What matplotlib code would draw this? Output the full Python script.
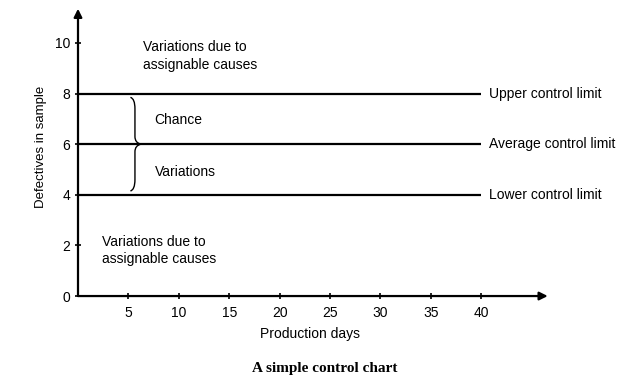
import matplotlib.pyplot as plt
from matplotlib.path import Path
from matplotlib.patches import PathPatch

plt.rcParams["font.family"] = ["Liberation Sans", "DejaVu Sans"]

# control limits (defectives in sample)
limit_values = [8, 6, 4]
limit_labels = ["Upper control limit", "Average control limit", "Lower control limit"]
x_ticks = [5, 10, 15, 20, 25, 30, 35, 40]
y_ticks = [0, 2, 4, 6, 8, 10]
x_end = 40

fig = plt.figure(figsize=(6.25, 3.81), dpi=100)
ax = fig.add_axes([0.1248, 0.223, 0.758, 0.764])
ax.set_xlim(0, 47)
ax.set_ylim(0, 11.5)

for s in ax.spines.values():
    s.set_visible(False)

# axes with arrow heads
ax.annotate("", xy=(0, 11.35), xytext=(0, 0), xycoords="data",
            arrowprops=dict(arrowstyle="-|>", color="black", lw=1.6,
                            mutation_scale=12, shrinkA=0, shrinkB=0),
            annotation_clip=False)
ax.annotate("", xy=(46.6, 0), xytext=(0, 0), xycoords="data",
            arrowprops=dict(arrowstyle="-|>", color="black", lw=1.6,
                            mutation_scale=12, shrinkA=0, shrinkB=0),
            annotation_clip=False)

ax.set_xticks(x_ticks)
ax.set_yticks(y_ticks)
ax.tick_params(direction="inout", length=5, width=1.2, labelsize=10)
ax.tick_params(axis="x", pad=4.5)
ax.tick_params(axis="y", pad=3)

for v, lab in zip(limit_values, limit_labels):
    ax.plot([0, x_end], [v, v], color="black", lw=1.6, solid_capstyle="butt")
    ax.text(x_end + 0.8, v, lab, fontsize=10, va="center", ha="left")

ax.text(6.4, 9.5, "Variations due to\nassignable causes", fontsize=10,
        va="center", ha="left", linespacing=1.35)
ax.text(2.4, 1.8, "Variations due to\nassignable causes", fontsize=10,
        va="center", ha="left", linespacing=1.35)
ax.text(7.6, 6.95, "Chance", fontsize=10, va="center", ha="left")
ax.text(7.6, 4.9, "Variations", fontsize=10, va="center", ha="left")

# curly brace between lower and upper limit
bx0, bx1, bx2 = 5.2, 5.65, 6.25
y_top, y_mid, y_bot = 7.85, 6.0, 4.15
verts = [
    (bx0, y_top), (bx1, y_top - 0.05), (bx1, y_top - 0.45),
    (bx1, y_mid + 0.3),
    (bx1, y_mid + 0.05), (bx2, y_mid),
    (bx1, y_mid - 0.05), (bx1, y_mid - 0.3),
    (bx1, y_bot + 0.45),
    (bx1, y_bot + 0.05), (bx0, y_bot),
]
codes = [
    Path.MOVETO, Path.CURVE3, Path.CURVE3,
    Path.LINETO,
    Path.CURVE3, Path.CURVE3,
    Path.CURVE3, Path.CURVE3,
    Path.LINETO,
    Path.CURVE3, Path.CURVE3,
]
ax.add_patch(PathPatch(Path(verts, codes), facecolor="none", edgecolor="black", lw=1.0))

ax.set_ylabel("Defectives in sample", fontsize=9.5)
ax.yaxis.set_label_coords(-0.065, 0.512)
ax.set_xlabel("Production days", fontsize=10)
ax.xaxis.set_label_coords(0.49, -0.107)

fig.text(0.52, 0.033, "A simple control chart", fontsize=11, fontweight="bold",
         family=["Liberation Serif", "DejaVu Serif"], ha="center", va="center")

fig.savefig("out.png", dpi=100)
